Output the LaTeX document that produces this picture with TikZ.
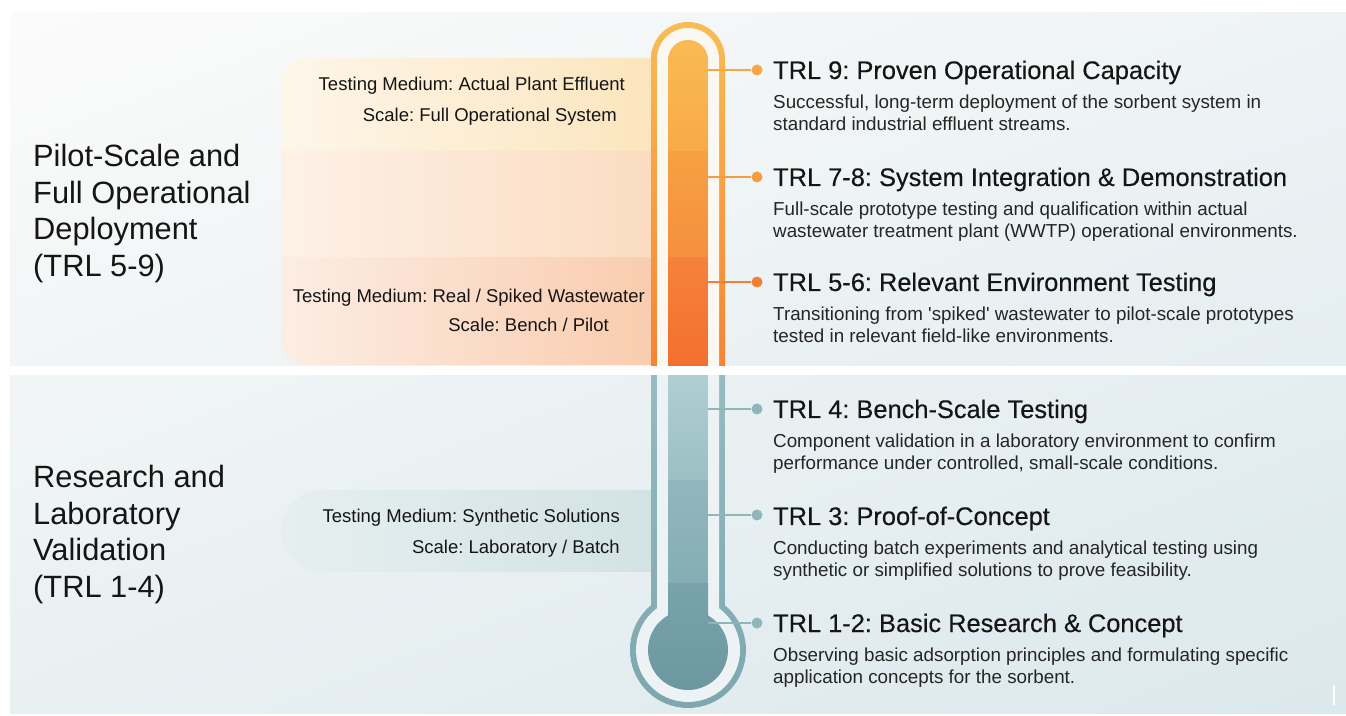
\documentclass[tikz,border=0pt]{standalone}
\usepackage{fontspec}
\setmainfont{Liberation Sans}
\newfontfamily\headfont[FakeBold=0.35]{Liberation Sans}
\usetikzlibrary{positioning,shadings}

\definecolor{bgTL}{HTML}{FBFBFA}
\definecolor{bgTR}{HTML}{EEF3F5}
\definecolor{bgBL}{HTML}{E9F0F2}
\definecolor{bgBR}{HTML}{DBE8EC}
\definecolor{warmTop}{HTML}{F8BC55}
\definecolor{warmBot}{HTML}{F58436}
\definecolor{warmGap}{HTML}{FBF7F1}
\definecolor{coolTop}{HTML}{96BBC1}
\definecolor{coolBot}{HTML}{7DA6AE}
\definecolor{coolGap}{HTML}{EDF3F4}
\definecolor{lnkNine}{HTML}{F6A845}
\definecolor{lnkSeven}{HTML}{F59B40}
\definecolor{lnkFive}{HTML}{F47E36}
\definecolor{lnkCool}{HTML}{90B5BB}
\definecolor{txtDark}{HTML}{151515}
\definecolor{txtBody}{HTML}{252525}
% panel bands
\definecolor{bandAL}{HTML}{FDF6EA}
\definecolor{bandAR}{HTML}{FCE3B8}
\definecolor{bandBL}{HTML}{FDF1E7}
\definecolor{bandBR}{HTML}{FBD9BC}
\definecolor{bandCL}{HTML}{FCEDE4}
\definecolor{bandCR}{HTML}{F9C8A7}
\definecolor{labL}{HTML}{E6EFF0}
\definecolor{labR}{HTML}{D0E1E3}
% column segments
\definecolor{colA1}{HTML}{F9BA55}
\definecolor{colA2}{HTML}{F7AA48}
\definecolor{colB1}{HTML}{F6A043}
\definecolor{colB2}{HTML}{F5903D}
\definecolor{colC1}{HTML}{F5823A}
\definecolor{colC2}{HTML}{F46F2F}
\definecolor{colD1}{HTML}{AECFD3}
\definecolor{colD2}{HTML}{9CBFC4}
\definecolor{colE1}{HTML}{91B7BD}
\definecolor{colE2}{HTML}{84ADB4}
\definecolor{colF1}{HTML}{78A3AB}
\definecolor{colF2}{HTML}{6C97A0}

\begin{document}
\frenchspacing
\begin{tikzpicture}[x=1pt,y=1pt,
    head/.style={anchor=base west, inner sep=0pt, text=txtDark,
      font=\headfont\fontsize{25.4}{30}\selectfont},
    desc/.style={anchor=north west, inner sep=0pt, align=left, text=txtBody,
      font=\fontsize{18.8}{21.5}\selectfont},
    phase/.style={anchor=north west, inner sep=0pt, align=left, text=txtDark,
      font=\fontsize{30.8}{36.5}\selectfont},
    medium/.style={anchor=base east, inner sep=0pt, text=txtDark,
      font=\fontsize{18.5}{22}\selectfont},
    dot/.style={circle, inner sep=0pt, minimum size=11pt},
    link/.style={line width=2pt}]

    % page and background panel
    \useasboundingbox (0,0) rectangle (1346,715);
    \fill[white] (0,0) rectangle (1346,715);
    \shade[upper left=bgTL, upper right=bgTR, lower left=bgBL, lower right=bgBR]
        (10,2) rectangle (1346,702);

    % testing medium panels
    \begin{scope}
        \clip[rounded corners=25pt] (281,350) rectangle (700,657);
        \shade[left color=bandAL, right color=bandAR] (281,563) rectangle (700,657);
        \shade[left color=bandBL, right color=bandBR] (281,457) rectangle (700,563);
        \shade[left color=bandCL, right color=bandCR] (281,350) rectangle (700,457);
    \end{scope}
    \shade[rounded corners=41pt, left color=labL, right color=labR]
        (281,143) rectangle (700,225);

    % thermometer, warm half
    \shade[top color=warmTop, bottom color=warmBot]
        (651,349) -- (651,656) arc[start angle=180, end angle=0, radius=37] -- (725,349) -- cycle;
    \fill[warmGap]
        (657,349) -- (657,656) arc[start angle=180, end angle=0, radius=31] -- (719,349) -- cycle;
    \begin{scope}
        \clip (668,349) -- (668,655) arc[start angle=180, end angle=0, radius=20] -- (708,349) -- cycle;
        \shade[top color=colA1, bottom color=colA2] (668,563) rectangle (708,676);
        \shade[top color=colB1, bottom color=colB2] (668,457) rectangle (708,563);
        \shade[top color=colC1, bottom color=colC2] (668,349) rectangle (708,457);
    \end{scope}

    % thermometer, cool half
    \shade[top color=coolTop, bottom color=coolBot]
        (651,340) -- (651,109.7) arc[start angle=129.6, end angle=410.4, radius=58] -- (725,340) -- cycle;
    \fill[coolGap]
        (657,340) -- (657,106.75) arc[start angle=126.6, end angle=413.4, radius=52] -- (719,340) -- cycle;
    \begin{scope}
        \clip (668,340) -- (668,99.64) arc[start angle=120, end angle=420, radius=40] -- (708,340) -- cycle;
        \shade[top color=colD1, bottom color=colD2] (668,234) rectangle (708,340);
        \shade[top color=colE1, bottom color=colE2] (668,132) rectangle (708,234);
        \shade[top color=colF1, bottom color=colF2] (628,20) rectangle (748,132);
    \end{scope}

    % white divider
    \fill[white] (10,340) rectangle (1346,349);

    % phase labels
    \node[phase] (pilot) at (33,571) {Pilot-Scale and\\Full Operational\\Deployment\\(TRL 5-9)};
    \node[phase] (lab) at (33,250) {Research and\\Laboratory\\Validation\\(TRL 1-4)};

    % testing medium labels
    \node[medium] (m9a) at (625,624) {Testing Medium: Actual Plant Effluent};
    \node[medium] (m9b) at (617,593) {Scale: Full Operational System};
    \node[medium] (m5a) at (645,412) {Testing Medium: Real / Spiked Wastewater};
    \node[medium] (m5b) at (609,383) {Scale: Bench / Pilot};
    \node[medium] (m1a) at (620,192) {Testing Medium: Synthetic Solutions};
    \node[medium] (m1b) at (620,161) {Scale: Laboratory / Batch};

    % level markers
    \coordinate (t9) at (708,645);
    \coordinate (t7) at (708,538);
    \coordinate (t5) at (708,433);
    \coordinate (t4) at (708,306);
    \coordinate (t3) at (708,200);
    \coordinate (t1) at (708,92);
    \node[dot, fill=lnkNine] (d9) at (757,645) {};
    \node[dot, fill=lnkSeven] (d7) at (757,538) {};
    \node[dot, fill=lnkFive] (d5) at (757,433) {};
    \node[dot, fill=lnkCool] (d4) at (757,306) {};
    \node[dot, fill=lnkCool] (d3) at (757,200) {};
    \node[dot, fill=lnkCool] (d1) at (757,92) {};
    \draw[link, lnkNine] (t9) -- (d9);
    \draw[link, lnkSeven] (t7) -- (d7);
    \draw[link, lnkFive] (t5) -- (d5);
    \draw[link, lnkCool] (t4) -- (d4);
    \draw[link, lnkCool] (t3) -- (d3);
    \draw[link, lnkCool] (t1) -- (d1);

    % level texts
    \node[head] (h9) at (773,636) {TRL 9: Proven Operational Capacity};
    \node[desc] (x9) at (773,620) {Successful, long-term deployment of the sorbent system in\\standard industrial effluent streams.};
    \node[head] (h7) at (773,529) {TRL 7-8: System Integration \& Demonstration};
    \node[desc] (x7) at (773,513) {Full-scale prototype testing and qualification within actual\\wastewater treatment plant (WWTP) operational environments.};
    \node[head] (h5) at (773,424) {TRL 5-6: Relevant Environment Testing};
    \node[desc] (x5) at (773,408) {Transitioning from \textquotesingle spiked\textquotesingle{} wastewater to pilot-scale prototypes\\tested in relevant field-like environments.};
    \node[head] (h4) at (773,297) {TRL 4: Bench-Scale Testing};
    \node[desc] (x4) at (773,281) {Component validation in a laboratory environment to confirm\\performance under controlled, small-scale conditions.};
    \node[head] (h3) at (773,190) {TRL 3: Proof-of-Concept};
    \node[desc] (x3) at (773,174) {Conducting batch experiments and analytical testing using\\synthetic or simplified solutions to prove feasibility.};
    \node[head] (h1) at (773,83) {TRL 1-2: Basic Research \& Concept};
    \node[desc] (x1) at (773,67) {Observing basic adsorption principles and formulating specific\\application concepts for the sorbent.};

    % corner mark
    \draw[white, line width=1.2pt] (1334,10) -- (1334,30);
\end{tikzpicture}
\end{document}
